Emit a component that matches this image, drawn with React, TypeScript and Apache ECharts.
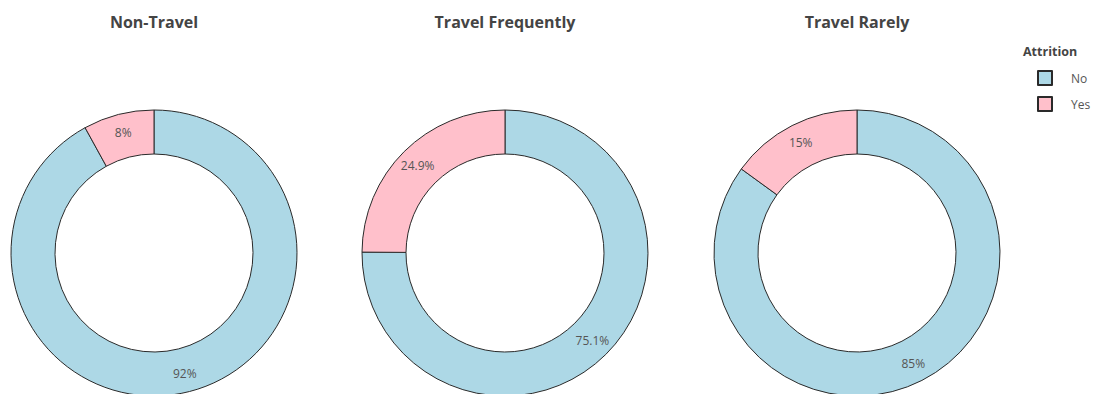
import React, { useEffect, useRef } from "react";
import * as echarts from "echarts";

const categories = ["No", "Yes"];
const groups = ["Non-Travel", "Travel Frequently", "Travel Rarely"];
const noValues = [92, 75.1, 85];
const yesValues = [8, 24.9, 15];
const colors = ["#ADD8E6", "#FFC0CB"];
const centersX = [154, 505, 857];

export default function App() {
  const ref = useRef<HTMLDivElement>(null);
  useEffect(() => {
    if (!ref.current) return;
    const chart = echarts.init(ref.current, undefined, { renderer: "svg" });
    const font = "'Open Sans', 'Noto Sans', sans-serif";
    chart.setOption({
      animation: false,
      textStyle: { fontFamily: font },
      title: groups.map((g, i) => ({
        text: g,
        left: centersX[i],
        top: 14,
        padding: 0,
        textAlign: "center",
        textStyle: { fontSize: 16, fontWeight: "bold", color: "#444", fontFamily: font },
      })),
      legend: {
        orient: "vertical",
        left: 1037,
        top: 70,
        padding: 0,
        itemWidth: 14,
        itemHeight: 14,
        itemGap: 10,
        icon: "rect",
        data: categories,
        textStyle: { fontSize: 12, color: "#555", padding: [0, 0, 0, 14], fontFamily: font },
      },
      graphic: [
        {
          type: "text",
          left: 1023,
          top: 45,
          style: { text: "Attrition", fontSize: 12.5, fontWeight: "bold", fill: "#444", fontFamily: font },
        },
      ],
      series: groups.map((g, i) => ({
        type: "pie",
        name: g,
        center: [centersX[i], 253],
        radius: [99, 143],
        startAngle: 90,
        clockwise: true,
        silent: true,
        itemStyle: { borderColor: "#2a2a2a", borderWidth: 1 },
        label: {
          show: true,
          position: "inside",
          fontSize: 12,
          color: "#555",
          fontFamily: font,
          formatter: (p: any) => p.value + "%",
        },
        labelLine: { show: false },
        data: categories.map((c, j) => ({
          name: c,
          value: j === 0 ? noValues[i] : yesValues[i],
          itemStyle: { color: colors[j] },
        })),
      })),
    });
    return () => chart.dispose();
  }, []);
  return (
    <div
      ref={ref}
      style={{ position: "fixed", left: 0, top: 0, width: 1098, height: 394, background: "#fff" }}
    />
  );
}
